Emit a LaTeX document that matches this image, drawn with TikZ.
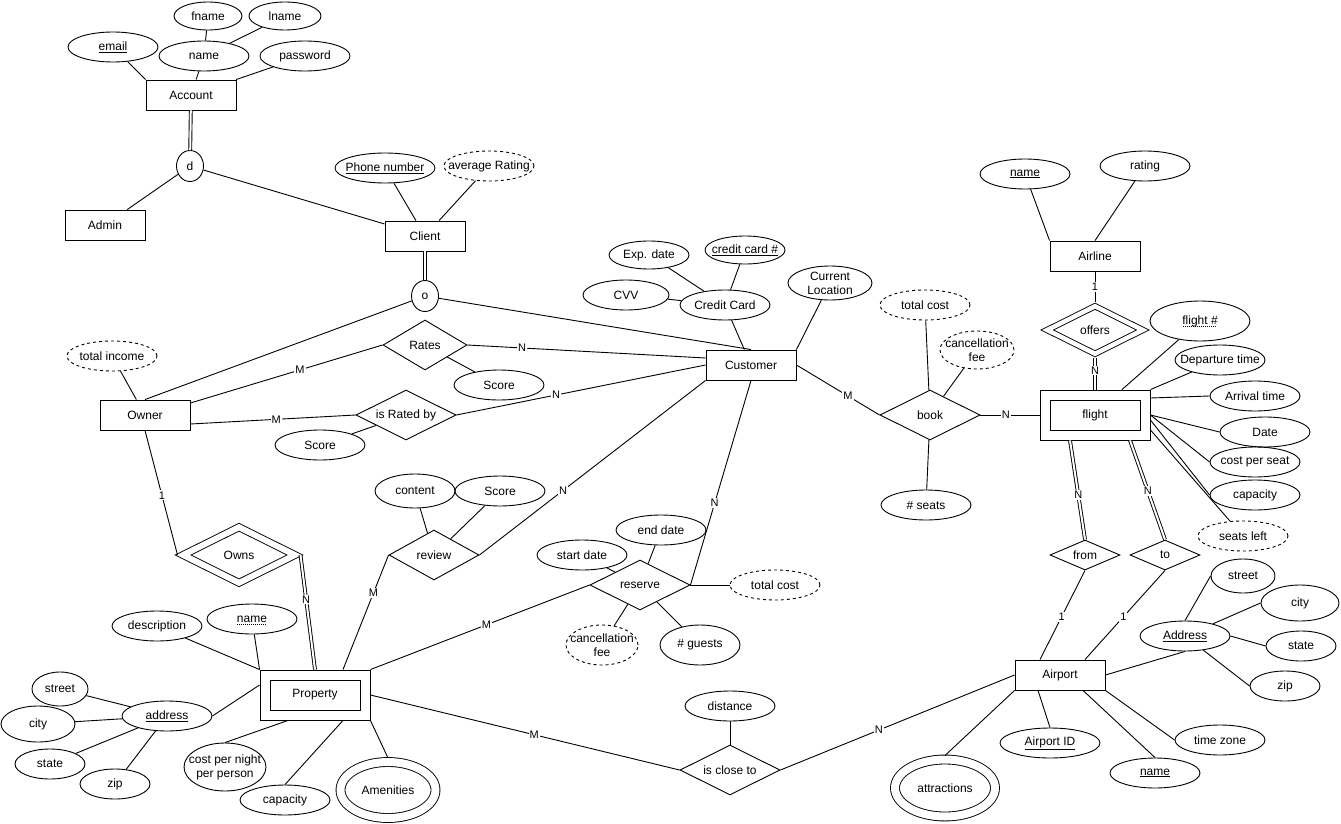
\documentclass[tikz,border=0pt]{standalone}
\usepackage{fontspec}
\setmainfont{Liberation Sans}
\usepackage{tikz}
\usetikzlibrary{shapes.geometric}

\newsavebox{\partbox}
\newcommand{\keyul}[1]{\underline{#1}}
\newcommand{\partul}[1]{\sbox{\partbox}{#1}\usebox{\partbox}%
  \llap{\smash{\raisebox{-2.6pt}{\hbox to \wd\partbox{%
  \leaders\hbox to 2pt{\hss\rule{1pt}{0.7pt}\hss}\hfill}}}}}

\begin{document}
\begin{tikzpicture}[
  x=1pt, y=-1pt, line width=0.9pt,
  every node/.style = {font=\fontsize{12}{14}\selectfont, line width=0.9pt},
  ent/.style    = {rectangle, draw, minimum width=90pt, minimum height=30pt},
  wkent/.style  = {rectangle, draw, minimum width=110pt, minimum height=50pt},
  attr/.style   = {ellipse, draw, inner xsep=-12pt, inner ysep=-4pt,
                   minimum width=#1, minimum height=30pt, align=center},
  attr/.default = 90pt,
  dattr/.style  = {attr=#1, dash pattern=on 3pt off 3pt},
  dattr/.default = 90pt,
  mattr/.style  = {ellipse, draw, double, double distance=8pt, outer sep=4pt,
                   inner xsep=-12pt, inner ysep=-4pt,
                   minimum width=#1, minimum height=56pt},
  rel/.style    = {diamond, aspect=2, draw, inner sep=0pt,
                   minimum width=100pt, minimum height=50pt},
  wkrel/.style  = {diamond, aspect=2, draw, double, inner sep=0pt},
  isa/.style    = {ellipse, draw, inner sep=0pt,
                   minimum width=27pt, minimum height=31pt},
  card/.style   = {fill=white, inner sep=1pt, font=\fontsize{11}{12}\selectfont},
  dbl/.style    = {double, double distance=2pt},
]
\useasboundingbox (0,0) rectangle (1341,824);

%% ══ ACCOUNT / specialisation ═══════════════════════════════════════════
\node[ent] (account) at (191,95) {Account};
\node[attr] (email) at (113,47) {\keyul{email}};
\node[attr] (aname) at (204,56) {name};
\node[attr=68pt, minimum height=28pt] (fname) at (208,16) {fname};
\node[attr=72pt, minimum height=28pt] (lname) at (285,16) {lname};
\node[attr] (passwd) at (305,56) {password};
\node[isa] (disj) at (190,166) {d};
\node[ent, minimum width=80pt] (admin) at (105,225) {Admin};
\node[ent, minimum width=80pt] (client) at (425,236) {Client};
\node[attr=100pt] (phone) at (385,168) {\keyul{Phone number}};
\node[dattr] (avgrate) at (489,166) {average Rating};
\node[isa] (overl) at (425,296) {o};

\draw (email) -- (account.north west);
\draw (aname) -- (account);
\draw (fname) -- (aname);
\draw (lname) -- (aname);
\draw (passwd) -- (account);
\draw[dbl] (account) -- (disj);
\draw (disj) -- (admin);
\draw (disj) -- (client);
\draw (phone) -- (client);
\draw (avgrate) -- (client);
\draw[dbl] (client) -- (overl);

%% ══ OWNER / CUSTOMER ═══════════════════════════════════════════════════
\node[ent] (owner) at (145,415) {Owner};
\node[dattr] (income) at (112,356) {total income};
\node[ent] (customer) at (751,365) {Customer};
\node[attr] (ccard) at (725,305) {Credit Card};
\node[attr=80pt, minimum height=28pt] (expdate) at (649,255) {Exp. date};
\node[attr=80pt, minimum height=28pt] (ccnum) at (745,250) {\keyul{credit card \#}};
\node[attr=86pt] (cvv) at (626,295) {CVV};
\node[attr=84pt, minimum height=34pt] (curloc) at (830,283) {Current\\Location};

\draw (overl) -- (owner.north);
\draw (overl) -- (customer.north);
\draw (income) -- (owner);
\draw (customer) -- (ccard);
\draw (ccard) -- (expdate);
\draw (ccard) -- (ccnum);
\draw (ccard) -- (cvv);
\draw (customer.north east) -- (curloc);

%% ── Rates / is Rated by ────────────────────────────────────────────────
\node[rel, minimum width=84pt] (rates) at (425,345) {Rates};
\node[attr] (rscore) at (499,385) {Score};
\node[rel] (ratedby) at (406,415) {is Rated by};
\node[attr] (rbscore) at (320,445) {Score};

\draw ([yshift=12pt]owner.east) -- node[card, pos=0.57] {M} (rates.west);
\draw (rates.east) -- node[card, pos=0.23] {N} ([yshift=7pt]customer.west);
\draw (rates) -- (rscore);
\draw ([yshift=-9pt]owner.east) -- node[card, pos=0.52] {M} (ratedby.west);
\draw (ratedby.east) -- node[card, pos=0.4] {N} (customer.west);
\draw (ratedby) -- (rbscore);

%% ══ PROPERTY ═══════════════════════════════════════════════════════════
\node[wkent] (property) at (315,695) {Property};
\node[ent] (propin) at (property) {};
\node[wkrel, minimum width=115pt, minimum height=59pt,
      double distance=6pt, outer sep=4pt] (owns) at (239,555) {Owns};
\node[attr] (descr) at (157,626) {description};
\node[attr] (prname) at (252,619) {\partul{name}};
\node[attr] (praddr) at (167,716) {\keyul{address}};
\node[attr=56pt, minimum height=34pt] (prstreet) at (60,689) {street};
\node[attr=74pt, minimum height=36pt] (prcity) at (38,724) {city};
\node[attr=70pt] (prstate) at (50,764) {state};
\node[attr=70pt] (przip) at (115,784) {zip};
\node[attr=82pt, minimum height=48pt] (nightcost) at (225,767) {cost per night\\per person};
\node[attr] (prcap) at (285,800) {capacity};
\node[mattr=95pt] (amenity) at (388,790) {Amenities};

\draw (owner.south) -- node[card, pos=0.52] {1} (owns.west);
\draw[dbl] (owns.east) -- node[card, pos=0.39] {N} (property.north);
\draw (descr) -- (property.north west);
\draw (prname) -- (property.north west);
\draw (praddr.east) -- ([yshift=10pt]property.west);
\draw (praddr) -- (prstreet);
\draw (praddr) -- (prcity);
\draw (praddr) -- (prstate);
\draw (praddr) -- (przip);
\draw (nightcost.north) -- ([xshift=-27pt]property.south);
\draw (prcap.north) -- ([xshift=28pt]property.south);
\draw (amenity.north) -- (property.south east);

%% ── review / reserve ───────────────────────────────────────────────────
\node[rel, minimum width=90pt] (review) at (434,555) {review};
\node[attr=80pt, minimum height=34pt] (content) at (415,491) {content};
\node[attr] (rvscore) at (500,491) {Score};
\node[rel] (reserve) at (640,585) {reserve};
\node[attr] (start) at (582,555) {start date};
\node[attr] (enddate) at (661,530) {end date};
\node[dattr] (rescost) at (775,585) {total cost};
\node[dattr=72pt, minimum height=40pt] (rescancel) at (602,645) {cancellation\\fee};
\node[attr=80pt, minimum height=40pt] (guests) at (700,645) {\# guests};

\draw (review.west) -- node[card, pos=0.33] {M} ([xshift=28pt]property.north);
\draw (review.east) -- node[card, pos=0.37] {N} (customer.south west);
\draw (review) -- (content);
\draw (review) -- (rvscore);
\draw (reserve.east) -- node[card, pos=0.4] {N} (customer.south);
\draw (reserve.west) -- node[card, pos=0.47] {M} (property.north east);
\draw (reserve) -- (start);
\draw (reserve) -- (enddate);
\draw (reserve.east) -- (rescost);
\draw (reserve) -- (rescancel);
\draw (reserve) -- (guests);

%% ══ BOOK / FLIGHT / AIRLINE ════════════════════════════════════════════
\node[rel] (book) at (930,415) {book};
\node[dattr] (bookcost) at (925,305) {total cost};
\node[dattr=74pt, minimum height=38pt] (bookcancel) at (977,350) {cancellation\\fee};
\node[attr] (seats) at (926,505) {\# seats};
\node[ent] (airline) at (1095,256) {Airline};
\node[attr] (alname) at (1025,174) {\keyul{name}};
\node[attr] (alrating) at (1145,166) {rating};
\node[wkrel, minimum width=98pt, minimum height=50pt,
      double distance=4.5pt, outer sep=3pt] (offers) at (1095,330) {offers};
\node[wkent] (flight) at (1095,415) {flight};
\node[ent] (flightin) at (flight) {};
\node[attr=100pt, minimum height=40pt] (flightno) at (1200,321) {\partul{flight \#}};
\node[attr] (deptime) at (1220,360) {Departure time};
\node[attr] (arrtime) at (1255,396) {Arrival time};
\node[attr] (fdate) at (1265,432) {Date};
\node[attr] (seatcost) at (1255,462) {cost per seat};
\node[attr] (fcap) at (1255,495) {capacity};
\node[dattr] (seatsleft) at (1243,536) {seats left};

\draw (customer.east) -- node[card, pos=0.62] {M} (book.west);
\draw (book.east) -- node[card, pos=0.43] {N} (flight.west);
\draw (book) -- (bookcost);
\draw (book) -- (bookcancel);
\draw (book) -- (seats);
\draw (airline.north west) -- (alname);
\draw (airline.north) -- (alrating);
\draw (airline) -- node[card] {1} (offers);
\draw[dbl] (offers) -- node[card, pos=0.4] {N} (flight);
\draw ([xshift=27pt]flight.north) -- (flightno);
\draw (flight.north east) -- (deptime);
\draw ([yshift=17pt]flight.east) -- (arrtime.west);
\draw (flight.east) -- (fdate.west);
\draw (flight.east) -- (seatcost.west);
\draw ([yshift=-5pt]flight.east) -- (fcap.west);
\draw ([yshift=-15pt]flight.east) -- (seatsleft);

%% ══ AIRPORT ════════════════════════════════════════════════════════════
\node[rel, minimum width=70pt, minimum height=30pt] (from) at (1085,555) {from};
\node[rel, minimum width=70pt, minimum height=30pt] (to) at (1165,555) {to};
\node[ent] (airport) at (1060,675) {Airport};
\node[attr] (apaddr) at (1185,636) {\keyul{Address}};
\node[attr=64pt, minimum height=34pt] (apstreet) at (1243,576) {street};
\node[attr=78pt, minimum height=36pt] (apcity) at (1300,603) {city};
\node[attr=70pt] (apstate) at (1301,646) {state};
\node[attr=70pt] (apzip) at (1285,686) {zip};
\node[attr] (tzone) at (1220,740) {time zone};
\node[attr=100pt] (apid) at (1050,743) {\keyul{Airport ID}};
\node[attr] (apname) at (1155,773) {\keyul{name}};
\node[mattr=100pt, minimum height=57pt] (attract) at (945,788) {attractions};
\node[rel] (closeto) at (730,770) {is close to};
\node[attr] (distance) at (730,706) {distance};

\draw[dbl] ([xshift=-25pt]flight.south) -- node[card, pos=0.55] {N} (from.north);
\draw[dbl] ([xshift=35pt]flight.south) -- node[card, pos=0.51] {N} (to.north);
\draw (from.south) -- node[card, pos=0.52] {1} ([xshift=-20pt]airport.north);
\draw (to.south) -- node[card, pos=0.52] {1} ([xshift=25pt]airport.north);
\draw (airport.east) -- (apaddr.south);
\draw (apaddr.north) -- (apstreet.west);
\draw (apaddr) -- (apcity.west);
\draw (apaddr.east) -- (apstate.west);
\draw (apaddr) -- (apzip.west);
\draw (airport.south east) -- (tzone.west);
\draw ([xshift=-22pt]airport.south) -- (apid.north);
\draw ([xshift=23pt]airport.south) -- (apname.north);
\draw (airport.south west) -- (attract.north);
\draw (airport.west) -- node[card, pos=0.58] {N} (closeto.east);
\draw (property.east) -- node[card, pos=0.53] {M} (closeto.west);
\draw (closeto) -- (distance);

\end{tikzpicture}
\end{document}
